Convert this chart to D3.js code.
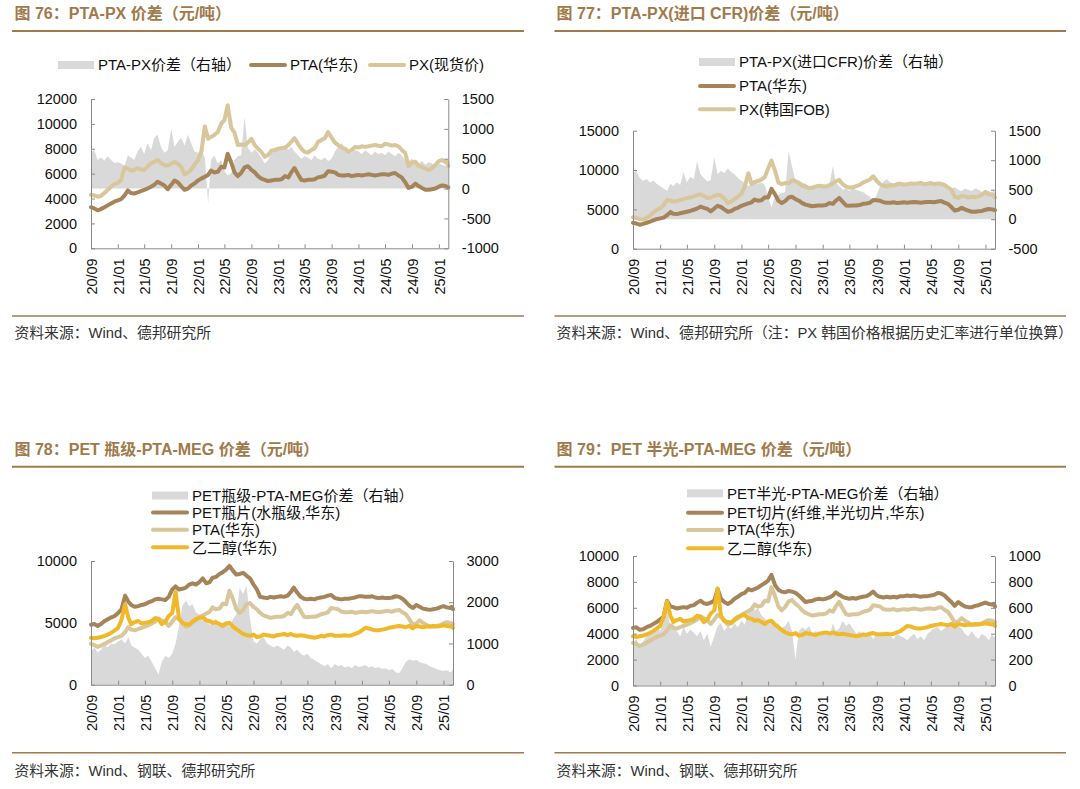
<!DOCTYPE html>
<html>
<head>
<meta charset="utf-8">
<script src="https://cdn.jsdelivr.net/npm/d3@7"></script>
<style>
  html, body { margin: 0; padding: 0; background: #fff; }
  svg { display: block; }
</style>
</head>
<body>
<svg id="chart" width="1080" height="789"></svg>
<script>
// semi-monthly sample dates, 1st and 16th, 2020-09 .. 2025-01, then early Feb 2025
var dates = d3.timeMonth.range(new Date(2020, 8, 1), new Date(2025, 1, 1))
  .flatMap(function(d) { return [d, new Date(d.getFullYear(), d.getMonth(), 16)]; })
  .concat([new Date(2025, 1, 1), new Date(2025, 1, 7), new Date(2025, 1, 13)]);

var tickDates = d3.timeMonth.every(4).range(new Date(2020, 8, 1), new Date(2025, 1, 2));

// PTA (华东), shared by all four charts
var ptaEast = [
  3300, 3200, 3050, 3150, 3300, 3450, 3600, 3750,
  3850, 3950, 4250, 4650, 4450, 4400, 4500, 4600, 4700, 4800, 4950, 5100, 5350, 5200, 5050, 4750, 5100, 5450, 5300, 5000, 4700, 4800, 5050, 5200,
  5450, 5600, 5750, 5900, 6250, 6100, 6150, 6550, 6500, 7600, 6900, 6100, 5800, 6050, 6500, 6600, 6300, 6100, 5800, 5600, 5500, 5400, 5450, 5500,
  5500, 5550, 5800, 5700, 6100, 6450, 5950, 5500, 5450, 5500, 5500, 5550, 5700, 5750, 5850, 6200, 6150, 6100, 5900, 5850, 5850, 5900, 5800, 5850,
  5900, 5850, 5900, 5950, 5900, 5850, 5900, 5950, 5950, 5900, 6000, 6050, 5850, 5700, 5300, 4850, 4950, 5200, 5000, 4850, 4700, 4700, 4750, 4800,
  4950, 5050, 5000, 4950, 4900
];

// PX 现货价
var pxSpot = [
  4300, 4250, 4150, 4200, 4450, 4700, 4950, 5150,
  5250, 5500, 6500, 6400, 6250, 6300, 6450, 6350, 6300, 6550, 6850, 6950, 7100, 6850, 6700, 6650, 6800, 6950, 6800, 6550, 5950, 6100, 6300, 6700,
  7100, 7750, 9800, 8800, 8950, 9100, 9350, 10000, 10300, 11500, 9700, 9300, 8300, 8350, 8300, 8500, 8800, 8300, 8000, 7750, 7350, 7500, 7850, 7900,
  8000, 8050, 8100, 8300, 8550, 8850, 8400, 8000, 7750, 7700, 7900, 8050, 8550, 8700, 8850, 9350, 8900, 8500, 8300, 8100, 8000, 7750, 7900, 8150,
  8100, 8200, 8150, 8200, 8250, 8300, 8250, 8200, 8400, 8350, 8250, 8300, 8200, 7900, 7650, 6600, 6900, 6950, 6600, 6550, 6400, 6300, 6450, 6700,
  7000, 7100, 6900, 6950, 6600
];

// PTA-PX 价差 (right axis)
var spreadPx = [
  600, 650, 480, 520, 470, 540, 480, 430,
  440, 420, 380, 560, 520, 480, 620, 700, 580, 760, 640, 850, 900, 700, 600, 640, 1000, 700, 780, 850, 720, 900, 760, 620,
  600, 650, 520, -250, 480, 560, 420, 480, 300, 220, 260, 480, 540, 560, 1200, 680, 600, 660, 600, 520, 420, 480, 600, 680,
  700, 640, 720, 650, 700, 620, 560, 500, 540, 520, 480, 560, 500, 480, 520, 460, 500, 620, 700, 760, 680, 640, 600, 650,
  620, 580, 640, 600, 560, 620, 580, 600, 560, 620, 580, 540, 600, 560, 480, 460, 500, 440, 420, 460, 400, 440, 420, 380,
  420, 400, 380, 420, 360
];

// PX 韩国FOB (converted to 元/吨)
var pxKoreaFob = [
  4000, 3900, 3750, 3700, 3900, 4200, 4600, 4900,
  5150, 5500, 6200, 6100, 6000, 6050, 6200, 6300, 6450, 6500, 6650, 6800, 6900, 6700, 6450, 6500, 6700, 6850, 6750, 6400, 5800, 6000, 6300, 6600,
  7000, 7900, 9600, 8200, 8500, 8600, 8800, 9100, 10200, 11200, 9900, 8400, 8200, 8350, 8300, 8700, 8600, 8300, 8000, 7900, 7700, 7750, 7900, 8000,
  7950, 7900, 8100, 8300, 8600, 8750, 8200, 7900, 7750, 7800, 7950, 8100, 8400, 8600, 8800, 9200, 8600, 8200, 8000, 7900, 8100, 8050, 8150, 8250,
  8150, 8200, 8300, 8250, 8300, 8350, 8200, 8250, 8350, 8200, 8300, 8250, 8100, 7800, 7500, 6600, 6450, 6700, 6650, 6500, 6600, 6550, 6650, 6850,
  7200, 6900, 6850, 6700, 6500
];

// PTA-PX(进口CFR) 价差 (right axis)
var spreadCfr = [
  780, 820, 700, 650, 680, 620, 650, 600,
  560, 520, 480, 600, 560, 620, 580, 800, 620, 720, 680, 980, 760, 700, 640, 660, 1050, 760, 820, 780, 860, 800, 760, 700,
  650, 620, 560, 600, 640, 600, 620, 580, 380, 200, 380, 420, 440, 460, 1150, 900, 640, 660, 620, 600, 560, 540, 560, 600,
  540, 560, 600, 900, 620, 560, 500, 520, 480, 520, 500, 480, 460, 420, 380, 300, 420, 560, 640, 680, 620, 600, 640, 620,
  600, 580, 620, 600, 640, 600, 620, 580, 600, 640, 600, 620, 580, 560, 520, 540, 500, 480, 520, 500, 480, 520, 500, 460,
  500, 480, 460, 500, 450
];

// PET瓶片(水瓶级,华东)
var petBottle = [
  4850, 4900, 4750, 4900, 5150, 5300, 5450, 5550,
  5800, 6100, 7200, 6700, 6450, 6300, 6350, 6450, 6500, 6650, 6750, 6900, 6950, 6900, 6850, 7100, 7700, 7950, 7700, 7750, 7850, 8100, 8200, 8100,
  8300, 8600, 8200, 8300, 8650, 8700, 8950, 9100, 9300, 9600, 9200, 8900, 8950, 9050, 8800, 8600, 8100, 7700, 7100, 7050, 7000, 7100, 7050, 7100,
  7150, 7100, 7200, 7500, 7850, 7450, 7100, 6950, 6900, 6950, 6900, 7000, 7050, 7100, 7200, 7250, 7000, 6950, 6900, 6950, 6950, 7000, 7050, 7150,
  7150, 7100, 7100, 7150, 7050, 7000, 7050, 7000, 7000, 7050, 7150, 7100, 6950, 6700, 6400, 6200, 6450, 6300, 6150, 6100, 6050, 6100, 6150, 6250,
  6350, 6250, 6200, 6300, 6100
];

// 乙二醇(华东), shared by charts 78 and 79
var megEast = [
  3800, 3750, 3800, 3850, 3950, 4050, 4200, 4400,
  4600, 5250, 6500, 5400, 4900, 5050, 5150, 4950, 5000, 5050, 5150, 5400, 5300, 4900, 5100, 5550, 5800, 7500, 5400, 5000, 4900, 4850, 5100, 5300,
  5400, 5450, 5200, 5150, 5000, 5050, 4900, 4750, 4950, 5000, 4700, 4500, 4300, 4100, 4000, 3950, 4050, 3850, 3900, 4050, 4000, 3950, 3900, 4000,
  4050, 4100, 4000, 4100, 4000, 3950, 4000, 3950, 3900, 3850, 3800, 3850, 3950, 3900, 4000, 4050, 3950, 3950, 3950, 4000, 3950, 4000, 4100, 4200,
  4400, 4600, 4550, 4450, 4400, 4400, 4450, 4500, 4600, 4650, 4700, 4750, 4700, 4650, 4750, 4550, 4750, 4700, 4650, 4700, 4700, 4750, 4700, 4750,
  4800, 4750, 4700, 4750, 4600
];

// PET瓶级-PTA-MEG 价差 (right axis)
var spreadBottle = [
  800, 900, 780, 850, 950, 900, 1000, 980,
  1050, 1100, 1000, 1150, 950, 900, 850, 750, 650, 700, 550, 400, 250, 550, 700, 650, 750, 1000, 1400, 1900, 2050, 1900, 1950, 1750,
  1700, 1550, 1650, 1450, 1500, 1600, 1450, 1500, 1550, 1400, 1600, 1700, 2350, 2200, 2400, 1600, 1050, 1000, 1100, 1150, 1000, 950, 900, 950,
  900, 850, 950, 900, 800, 850, 750, 700, 750, 650, 600, 550, 500, 450, 500, 400, 500, 450, 480, 420, 450, 400, 480, 430,
  450, 480, 420, 450, 400, 430, 380, 400, 350, 380, 300, 280, 400, 550, 620, 580, 600, 550, 520, 500, 450, 420, 380, 350,
  330, 350, 300, 320, 400
];

// PET切片(纤维,半光切片,华东)
var petChip = [
  4450, 4500, 4300, 4350, 4500, 4600, 4750, 4900,
  5100, 5300, 6550, 6100, 6050, 5950, 6000, 6050, 6000, 6150, 6200, 6400, 6550, 6350, 6300, 6400, 6550, 7450, 6700, 6450, 6300, 6450, 6700, 6850,
  7050, 7150, 7450, 7350, 7450, 7550, 7750, 7900, 8100, 8550, 7750, 7400, 7250, 7200, 7300, 7250, 7150, 6950, 6700, 6450, 6500, 6550, 6650, 6700,
  6650, 6700, 6800, 6950, 7200, 7000, 6850, 6750, 6700, 6750, 6700, 6800, 6850, 6900, 7050, 7250, 6950, 6850, 6800, 6850, 6800, 6850, 6800, 6900,
  6900, 6950, 6900, 6950, 6900, 6850, 6900, 6900, 6950, 7000, 7150, 7100, 6950, 6700, 6450, 6150, 6450, 6250, 6100, 6050, 6050, 6150, 6200, 6300,
  6400, 6300, 6250, 6300, 6100
];

// PET半光-PTA-MEG 价差 (right axis)
var spreadChip = [
  330, 360, 300, 340, 380, 420, 400, 450,
  420, 480, 600, 450, 480, 420, 380, 450, 400, 430, 410, 380, 420, 350, 400, 300, 380, 460, 480, 420, 460, 440, 480, 450,
  500, 470, 560, 620, 580, 600, 540, 520, 480, 500, 460, 480, 440, 460, 500, 420, 200, 420, 450, 430, 460, 400, 420, 380,
  400, 420, 380, 480, 420, 440, 500, 460, 480, 440, 400, 420, 380, 410, 400, 360, 400, 380, 420, 400, 380, 360, 400, 380,
  370, 350, 380, 400, 360, 380, 350, 400, 420, 440, 450, 420, 440, 470, 480, 500, 460, 440, 400, 380, 420, 380, 360, 400,
  380, 350, 400, 370, 380
];

var FONT = '"Liberation Sans", Arial, "Noto Sans CJK SC", sans-serif';
var BROWN = "#a07a4a";
var COLORS = {
  gray: "#d9d9d9",
  dark: "#a5845a",
  light: "#d9c79c",
  yellow: "#efb92a"
};

var panels = [
  {
    title: "图 76：PTA-PX 价差（元/吨）",
    titleX: 14.5, titleY: 13.5, ruleX: [12, 524], ruleY: 31, sepY: 316, sourceY: 333,
    source: "资料来源：Wind、德邦研究所",
    plot: { left: 91, right: 448.3, top: 99, bottom: 248.3 },
    leftDomain: [0, 12000], leftStep: 2000,
    rightDomain: [-1000, 1500], rightStep: 500,
    legend: [
      { x: 58, y: 65 }, { x: 250, y: 65 }, { x: 369, y: 65 }
    ],
    series: [
      { name: "PTA-PX价差（右轴）", values: spreadPx, kind: "area", color: COLORS.gray },
      { name: "PTA(华东)", values: ptaEast, kind: "line", color: COLORS.dark },
      { name: "PX(现货价)", values: pxSpot, kind: "line", color: COLORS.light }
    ]
  },
  {
    title: "图 77：PTA-PX(进口 CFR)价差（元/吨）",
    titleX: 556.6, titleY: 13.5, ruleX: [554.5, 1066], ruleY: 31, sepY: 316, sourceY: 333,
    source: "资料来源：Wind、德邦研究所（注：PX 韩国价格根据历史汇率进行单位换算）",
    plot: { left: 633, right: 995, top: 130.7, bottom: 248.7 },
    leftDomain: [0, 15000], leftStep: 5000,
    rightDomain: [-500, 1500], rightStep: 500,
    legend: [
      { x: 699, y: 62 }, { x: 699, y: 86 }, { x: 699, y: 109.3 }
    ],
    series: [
      { name: "PTA-PX(进口CFR)价差（右轴）", values: spreadCfr, kind: "area", color: COLORS.gray },
      { name: "PTA(华东)", values: ptaEast, kind: "line", color: COLORS.dark },
      { name: "PX(韩国FOB)", values: pxKoreaFob, kind: "line", color: COLORS.light }
    ]
  },
  {
    title: "图 78：PET 瓶级-PTA-MEG 价差（元/吨）",
    titleX: 14.5, titleY: 449.3, ruleX: [12, 524], ruleY: 466.7, sepY: 752.7, sourceY: 770.7,
    source: "资料来源：Wind、钢联、德邦研究所",
    plot: { left: 91, right: 453, top: 561, bottom: 684.7 },
    leftDomain: [0, 10000], leftStep: 5000,
    rightDomain: [0, 3000], rightStep: 1000,
    legend: [
      { x: 152, y: 495.5 }, { x: 152, y: 512.5 }, { x: 152, y: 529.7 }, { x: 152, y: 547.3 }
    ],
    series: [
      { name: "PET瓶级-PTA-MEG价差（右轴）", values: spreadBottle, kind: "area", color: COLORS.gray },
      { name: "PET瓶片(水瓶级,华东)", values: petBottle, kind: "line", color: COLORS.dark },
      { name: "PTA(华东)", values: ptaEast, kind: "line", color: COLORS.light },
      { name: "乙二醇(华东)", values: megEast, kind: "line", color: COLORS.yellow }
    ]
  },
  {
    title: "图 79：PET 半光-PTA-MEG 价差（元/吨）",
    titleX: 556.6, titleY: 449.3, ruleX: [554.5, 1066], ruleY: 466.7, sepY: 752.7, sourceY: 770.7,
    source: "资料来源：Wind、钢联、德邦研究所",
    plot: { left: 633, right: 995, top: 556, bottom: 685.5 },
    leftDomain: [0, 10000], leftStep: 2000,
    rightDomain: [0, 1000], rightStep: 200,
    legend: [
      { x: 687, y: 493.3 }, { x: 687, y: 512.7 }, { x: 687, y: 530 }, { x: 687, y: 548.3 }
    ],
    series: [
      { name: "PET半光-PTA-MEG价差（右轴）", values: spreadChip, kind: "area", color: COLORS.gray },
      { name: "PET切片(纤维,半光切片,华东)", values: petChip, kind: "line", color: COLORS.dark },
      { name: "PTA(华东)", values: ptaEast, kind: "line", color: COLORS.light },
      { name: "乙二醇(华东)", values: megEast, kind: "line", color: COLORS.yellow }
    ]
  }
];

var svg = d3.select("#chart").style("font-family", FONT);

function styleAxis(axisG) {
  axisG.select(".domain").attr("stroke", "#8a8a8a").attr("stroke-width", 1);
  axisG.selectAll(".tick line").attr("stroke", "#8a8a8a").attr("stroke-width", 1);
  axisG.selectAll(".tick text")
    .attr("fill", "#111")
    .style("font-family", FONT)
    .style("font-size", "14.5px");
}

function drawPanel(p) {
  var g = svg.append("g");
  var plot = p.plot;

  // title and rules
  g.append("text")
    .attr("x", p.titleX).attr("y", p.titleY).attr("dy", "0.36em")
    .attr("fill", BROWN)
    .style("font-size", "16px").style("font-weight", "bold")
    .text(p.title);
  g.append("line")
    .attr("x1", p.ruleX[0]).attr("x2", p.ruleX[1])
    .attr("y1", p.ruleY).attr("y2", p.ruleY)
    .attr("stroke", BROWN).attr("stroke-width", 2);
  g.append("line")
    .attr("x1", p.ruleX[0]).attr("x2", p.ruleX[1])
    .attr("y1", p.sepY).attr("y2", p.sepY)
    .attr("stroke", BROWN).attr("stroke-width", 1.6);
  g.append("text")
    .attr("x", p.titleX).attr("y", p.sourceY).attr("dy", "0.36em")
    .attr("fill", "#333")
    .style("font-size", "14.8px")
    .text(p.source);

  var x = d3.scaleTime()
    .domain([dates[0], dates[dates.length - 1]])
    .range([plot.left, plot.right]);
  var yLeft = d3.scaleLinear().domain(p.leftDomain).range([plot.bottom, plot.top]);
  var yRight = d3.scaleLinear().domain(p.rightDomain).range([plot.bottom, plot.top]);

  // series
  p.series.forEach(function(s) {
    if (s.kind === "area") {
      var area = d3.area()
        .x(function(d, i) { return x(dates[i]); })
        .y0(yRight(0))
        .y1(function(d) { return yRight(d); });
      g.append("path")
        .datum(s.values)
        .attr("d", area)
        .attr("fill", s.color);
    } else {
      var line = d3.line()
        .x(function(d, i) { return x(dates[i]); })
        .y(function(d) { return yLeft(d); });
      g.append("path")
        .datum(s.values)
        .attr("d", line)
        .attr("fill", "none")
        .attr("stroke", s.color)
        .attr("stroke-width", 4)
        .attr("stroke-linejoin", "round")
        .attr("stroke-linecap", "round");
    }
  });

  // axes, ticks pointing inward
  var leftAxis = g.append("g")
    .attr("transform", "translate(" + plot.left + ",0)")
    .call(d3.axisLeft(yLeft)
      .tickValues(d3.range(p.leftDomain[0], p.leftDomain[1] + 1, p.leftStep))
      .tickSizeInner(-4).tickSizeOuter(0).tickPadding(14)
      .tickFormat(d3.format("d")));
  styleAxis(leftAxis);

  var rightAxis = g.append("g")
    .attr("transform", "translate(" + plot.right + ",0)")
    .call(d3.axisRight(yRight)
      .tickValues(d3.range(p.rightDomain[0], p.rightDomain[1] + 1, p.rightStep))
      .tickSizeInner(-4).tickSizeOuter(0).tickPadding(13.5)
      .tickFormat(function(d) { return d < 0 ? "-" + Math.abs(d) : String(d); }));
  styleAxis(rightAxis);

  var bottomAxis = g.append("g")
    .attr("transform", "translate(0," + plot.bottom + ")")
    .call(d3.axisBottom(x)
      .tickValues(tickDates)
      .tickSizeInner(-4).tickSizeOuter(0)
      .tickFormat(d3.timeFormat("%y/%m")));
  styleAxis(bottomAxis);
  bottomAxis.selectAll(".tick text")
    .attr("transform", "rotate(-90)")
    .attr("text-anchor", "end")
    .attr("x", -10)
    .attr("y", 0)
    .attr("dy", "0.36em");

  // legend
  p.series.forEach(function(s, i) {
    var pos = p.legend[i];
    if (s.kind === "area") {
      g.append("rect")
        .attr("x", pos.x).attr("y", pos.y - 4)
        .attr("width", 36).attr("height", 8)
        .attr("fill", s.color);
    } else {
      g.append("line")
        .attr("x1", pos.x + 1).attr("x2", pos.x + 35)
        .attr("y1", pos.y).attr("y2", pos.y)
        .attr("stroke", s.color)
        .attr("stroke-width", 4)
        .attr("stroke-linecap", "round");
    }
    g.append("text")
      .attr("x", pos.x + 40).attr("y", pos.y).attr("dy", "0.36em")
      .attr("fill", "#111")
      .style("font-size", "15px")
      .text(s.name);
  });
}

panels.forEach(drawPanel);
</script>
</body>
</html>
